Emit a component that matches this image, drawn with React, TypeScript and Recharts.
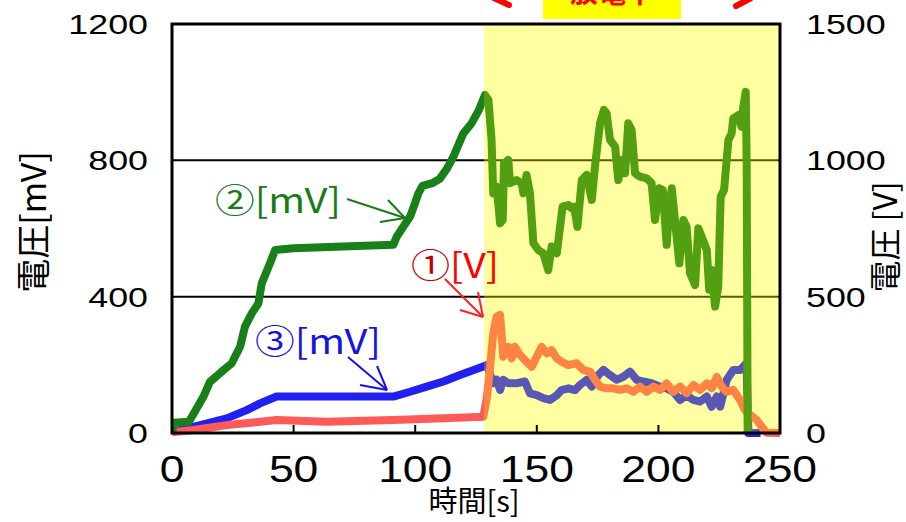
import React from "react"
import { LineChart, Line, XAxis, YAxis, CartesianGrid, ReferenceArea } from "recharts"

const xTicks = [0, 50, 100, 150, 200, 250]
const mvTicks = [0, 400, 800, 1200]
const vTicks = [0, 500, 1000, 1500]

// the shaded stretch (s)
const shadeStart = 128.3
const shadeEnd = 249.2

// ① [V], right axis
const s1Time = [
  0, 8.8, 22.5, 36.2, 43, 63.6, 91, 111.6, 128, 129.5, 130.8, 132.1, 133.5, 134.9, 136.2, 138.3, 139.7, 141,
  143.1, 145.8, 147.9, 150, 152, 154.1, 156.1, 158.2, 160.2, 163, 166.4, 169.1, 171.9, 174, 176, 178.7, 181.5,
  184.2, 187, 189.7, 192.4, 195.2, 197.9, 200.7, 203.4, 206.1, 208.9, 211.6, 214.4, 217.1, 219.9, 221.9, 224,
  226, 228.1, 230.8, 233.6, 235.6, 237.7, 240.4, 242.5, 244.5, 250,
]
const s1Volt = [
  3, 11, 29, 41, 48, 41, 48, 54, 60, 130, 243, 366, 427, 433, 280, 316, 274, 316,
  286, 261, 243, 280, 316, 292, 304, 274, 261, 249, 256, 231, 225, 194, 170, 164, 164,
  158, 164, 151, 170, 151, 170, 158, 182, 151, 170, 146, 176, 158, 182, 164, 206,
  170, 151, 158, 121, 84, 66, 48, 23, 1, 0,
]

// ② [mV], left axis
const s2Time = [
  0, 0.8, 7, 12.9, 15.6, 20.4, 24.5, 28, 30, 32.8, 35.5, 36.9, 40.3, 42.4, 49.9, 70.4, 91, 92.4, 95.1, 97.9,
  99.9, 101.3, 103, 107, 110, 113, 115.7, 119.8, 123.2, 126, 128.7, 130.1, 131.4, 132.1, 133.5, 134.9, 136,
  136.5, 138.3, 139, 141.7, 143.8, 144.5, 145.8, 147.2, 148.6, 150.6, 152.7, 154.7, 156.1, 158.2, 160.6, 163,
  164.3, 165.3, 166.7, 168.5, 170.5, 172.6, 173.9, 176, 177.6, 178.7, 180.1, 182.2, 183.5, 184.9, 186.3, 187.6,
  189, 190.4, 192.4, 195.2, 197.2, 198.6, 200.4, 201.8, 203.4, 204.5, 205.5, 206.8, 208.6, 210.3, 211.6, 213,
  215.1, 216.4, 217.8, 219.9, 220.9, 221.9, 223.3, 224.6, 225.6, 227, 228.8, 230.1, 230.8, 232.9, 234.2, 234.9,
  235.9, 236.3, 236.7,
]
const s2Mv = [
  0, 30, 33, 106, 150, 180, 204, 253, 312, 351, 380, 439, 498, 537, 542, 547, 552, 576, 605, 635,
  674, 703, 725, 733, 745, 775, 811, 879, 909, 945, 992, 977, 860, 703, 723, 615, 625,
  791, 801, 733, 742, 733, 703, 757, 703, 557, 537, 527, 478, 547, 527, 664, 669,
  659, 664, 605, 742, 757, 684, 781, 909, 948, 938, 860, 840, 742, 801, 762, 909,
  889, 762, 752, 747, 733, 625, 718, 713, 552, 664, 718, 625, 498, 625, 605, 469,
  434, 601, 576, 537, 420, 478, 371, 429, 693, 713, 860, 879, 923, 933, 899, 957,
  1001, 791, 0,
]

// ③ [mV], left axis
const s3Time = [
  0, 8.8, 22.5, 30.7, 36.2, 43, 49.9, 70.4, 91, 97.9, 104.7, 111.6, 118.4, 128, 129.5, 132.1, 133.5, 134.9,
  136.2, 138.3, 141.7, 145.1, 147.2, 150, 152.7, 155.4, 158.2, 160.2, 163, 165.7, 167.8, 170.5, 172.6, 175.3,
  177.4, 180.1, 182.8, 185.6, 188.3, 191.1, 193.8, 197.2, 200.7, 203.4, 206.1, 208.9, 211.6, 214.4, 217.1,
  219.9, 221.9, 224, 225.4, 228.1, 230.8, 233.6, 235.6, 236.3, 237, 242,
]
const s3Mv = [
  3, 18, 43, 67, 87, 107, 107, 107, 107, 121, 136, 151, 170, 195, 200, 146, 156, 126,
  156, 146, 146, 151, 116, 111, 102, 97, 111, 126, 131, 126, 141, 156, 136, 170,
  185, 170, 156, 165, 180, 156, 151, 146, 136, 131, 121, 97, 111, 97, 92,
  107, 77, 107, 77, 156, 185, 185, 200, 185, 0, 0,
]

const rows = (ts: number[], vs: number[]) => ts.map((t, i) => ({ t, v: vs[i] }))
const s1Data = rows(s1Time, s1Volt)
const s2Data = rows(s2Time, s2Mv)
const s3Data = rows(s3Time, s3Mv)

const TICK_FONT = "'Liberation Sans', Arial, sans-serif"
const JP_FONT = "'Noto Sans CJK JP', 'Noto Sans', sans-serif"

const XTick = (props: any) => {
  const { x, y, payload } = props
  const inner = payload.value > 0 && payload.value < 250
  return (
    <g>
      {inner && <line x1={x} x2={x} y1={y} y2={y - 8} stroke="#000" strokeWidth={2} />}
      <text transform={`translate(${x},${y + 49}) scale(1.2,1)`} textAnchor="middle" fontSize={37} fontFamily={TICK_FONT} fill="#000">
        {payload.value}
      </text>
    </g>
  )
}

const LeftTick = (props: any) => {
  const { x, y, payload } = props
  return (
    <text transform={`translate(${x - 24},${y + 10}) scale(1.28,1)`} textAnchor="end" fontSize={28} fontFamily={TICK_FONT} fill="#000">
      {payload.value}
    </text>
  )
}

const RightTick = (props: any) => {
  const { x, y, payload } = props
  return (
    <text transform={`translate(${x + 26},${y + 10}) scale(1.28,1)`} textAnchor="start" fontSize={28} fontFamily={TICK_FONT} fill="#000">
      {payload.value}
    </text>
  )
}

function Annotations() {
  return (
    <svg width={906} height={522} style={{ position: "absolute", left: 0, top: 0, pointerEvents: "none" }}>
      {/* header box, cut off at the top like the source */}
      <rect x={543} y={0} width={138} height={19} fill="#ffff00" />
      <text x={612} y={3} textAnchor="middle" fontSize={28} fontWeight="bold" fontFamily={JP_FONT} fill="#ff0000">
        放電中
      </text>
      <line x1={494} y1={-2} x2={509} y2={5} stroke="#ff0000" strokeWidth={6} strokeLinecap="round" />
      <line x1={751} y1={-2} x2={736} y2={6} stroke="#ff0000" strokeWidth={6} strokeLinecap="round" />

      {/* axis titles */}
      <text transform="translate(46,222) rotate(-90)" textAnchor="middle" fontSize={34} fontFamily={JP_FONT} fill="#000">
        電圧[mV]
      </text>
      <text transform="translate(897,237) rotate(-90)" textAnchor="middle" fontSize={32} fontFamily={JP_FONT} fill="#000">
        電圧 [V]
      </text>
      <text x={474} y={512} textAnchor="middle" fontSize={29} fontFamily={JP_FONT} fill="#000">
        時間[s]
      </text>

      {/* ② */}
      <text transform="translate(215,213) scale(1.17,1)" fontSize={34} fontFamily={JP_FONT} fill="#1a7a1a">
        ②[mV]
      </text>
      <g stroke="#1a7a1a" strokeWidth={2} fill="none">
        <line x1={347} y1={199} x2={405} y2={218} />
        <line x1={405} y1={218} x2={388} y2={200} />
        <line x1={405} y1={218} x2={380} y2={222} />
      </g>

      {/* ① */}
      <text transform="translate(411,278) scale(1.15,1)" fontSize={34} fontFamily={JP_FONT}>
        <tspan fill="#c00000">①</tspan>
        <tspan fill="#ff0000">[V]</tspan>
      </text>
      <g stroke="#ff2020" strokeWidth={2} fill="none">
        <line x1={445} y1={279} x2={483} y2={317} />
        <line x1={483} y1={317} x2={478} y2={292} />
        <line x1={483} y1={317} x2={460} y2={310} />
      </g>

      {/* ③ */}
      <text transform="translate(255,354) scale(1.17,1)" fontSize={34} fontFamily={JP_FONT} fill="#1414e0">
        ③[mV]
      </text>
      <g stroke="#1414e0" strokeWidth={2} fill="none">
        <line x1={348} y1={357} x2={387} y2={390} />
        <line x1={387} y1={390} x2={377} y2={366} />
        <line x1={387} y1={390} x2={360} y2={385} />
      </g>
    </svg>
  )
}

export default function App() {
  return (
    <div style={{ position: "absolute", left: 0, top: 0, width: 906, height: 522, background: "#fff" }}>
      <LineChart width={906} height={522} margin={{ top: 24, right: 0, bottom: 0, left: 0 }}>
        <CartesianGrid yAxisId="mv" vertical={false} stroke="#000" strokeWidth={2} />
        <XAxis
          type="number"
          dataKey="t"
          domain={[0, 250]}
          ticks={xTicks}
          interval={0}
          height={89}
          axisLine={false}
          tickLine={false}
          tickSize={0}
          tickMargin={0}
          tick={<XTick />}
          allowDataOverflow
        />
        <YAxis
          yAxisId="mv"
          domain={[0, 1200]}
          ticks={mvTicks}
          interval={0}
          width={172}
          axisLine={false}
          tickLine={false}
          tickSize={0}
          tickMargin={0}
          tick={<LeftTick />}
        />
        <YAxis
          yAxisId="v"
          orientation="right"
          domain={[0, 1500]}
          ticks={vTicks}
          interval={0}
          width={126}
          axisLine={false}
          tickLine={false}
          tickSize={0}
          tickMargin={0}
          tick={<RightTick />}
        />
        <ReferenceArea
          yAxisId="mv"
          x1={shadeStart}
          x2={shadeEnd}
          y1={0}
          y2={1200}
          fill="#ffff00"
          fillOpacity={0.15}
          stroke="none"
          zIndex={-50}
        />
        <Line
          yAxisId="mv"
          data={s3Data}
          dataKey="v"
          type="linear"
          stroke="#2020f0"
          strokeWidth={8}
          strokeLinejoin="round"
          dot={false}
          isAnimationActive={false}
        />
        <Line
          yAxisId="v"
          data={s1Data}
          dataKey="v"
          type="linear"
          stroke="#ff5a5a"
          strokeWidth={8}
          strokeLinejoin="round"
          dot={false}
          isAnimationActive={false}
        />
        <Line
          yAxisId="mv"
          data={s2Data}
          dataKey="v"
          type="linear"
          stroke="#188018"
          strokeWidth={8}
          strokeLinejoin="round"
          dot={false}
          isAnimationActive={false}
        />
        <ReferenceArea
          yAxisId="mv"
          x1={shadeStart}
          x2={shadeEnd}
          y1={0}
          y2={1200}
          fill="#ffff00"
          fillOpacity={0.25}
          stroke="none"
          zIndex={1000}
        />
        <ReferenceArea
          yAxisId="mv"
          x1={0}
          x2={250}
          y1={0}
          y2={1200}
          fill="none"
          fillOpacity={0}
          stroke="#000"
          strokeWidth={3}
          zIndex={1001}
        />
      </LineChart>
      <Annotations />
    </div>
  )
}
